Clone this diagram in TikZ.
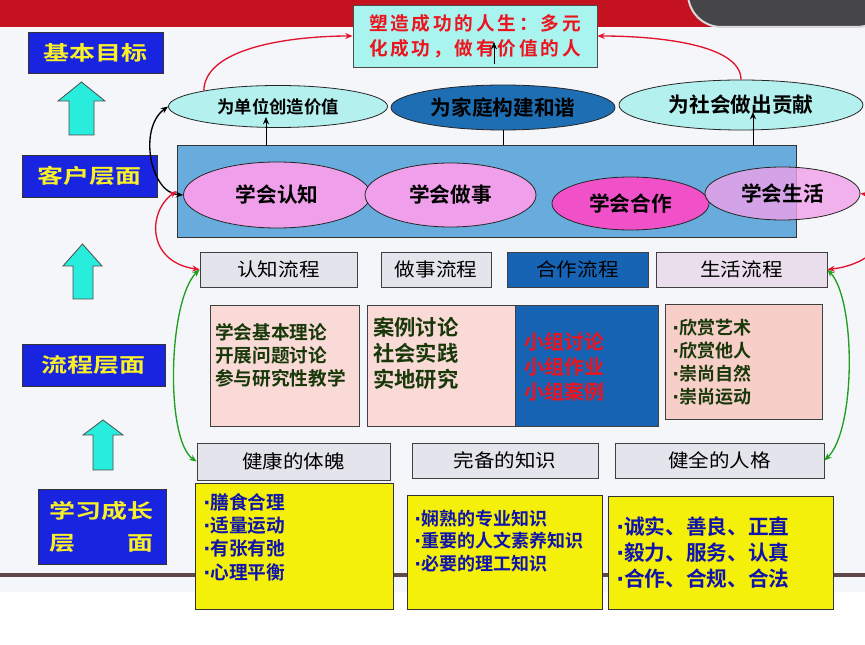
\documentclass[tikz,border=0pt]{standalone}
\usepackage{fontspec}
\setmainfont{Noto Sans CJK SC}[BoldFont={Noto Sans CJK SC Bold}]
\newfontfamily\spacedr{Noto Sans CJK SC}[FakeStretch=1.1]
\newfontfamily\spacedb{Noto Sans CJK SC Bold}[FakeStretch=1.3]
\newfontfamily\topfont{Noto Sans CJK SC Bold}[LetterSpace=15]
\newfontfamily\dotfont{DejaVu Sans Bold}
\newcommand\bdot{{\dotfont ·}}
\usetikzlibrary{arrows.meta,shapes.geometric}
\definecolor{lblblue}{RGB}{24,36,224}
\definecolor{lblyellow}{RGB}{250,240,40}
\definecolor{arrcyan}{RGB}{40,236,220}
\definecolor{topcyan}{RGB}{170,244,240}
\definecolor{ellcyan}{RGB}{180,240,238}
\definecolor{famblue}{RGB}{30,110,180}
\definecolor{rectblue}{RGB}{104,172,222}
\definecolor{pinkell}{RGB}{240,160,234}
\definecolor{hotpink}{RGB}{240,80,200}
\definecolor{hdrgrey}{RGB}{228,228,236}
\definecolor{hdrpink}{RGB}{234,222,236}
\definecolor{coopblue}{RGB}{24,100,180}
\definecolor{pinkbox}{RGB}{250,218,214}
\definecolor{salmonbox}{RGB}{248,206,200}
\definecolor{ylw}{RGB}{244,240,10}
\definecolor{grntxt}{RGB}{24,56,10}
\definecolor{bluetxt}{RGB}{16,20,170}
\definecolor{redtxt}{RGB}{236,20,30}
\definecolor{arrred}{RGB}{225,20,45}
\definecolor{arrgreen}{RGB}{30,160,30}
\definecolor{bandred}{RGB}{196,18,32}
\definecolor{bgpale}{RGB}{245,246,250}
\definecolor{darkband}{RGB}{70,70,72}
\definecolor{floorline}{RGB}{96,72,72}
\tikzset{
  lbl/.style={draw=black!80, fill=lblblue, text=lblyellow, inner sep=0pt,
    font=\spacedb\fontsize{15pt}{18pt}\selectfont},
  upar/.style={draw=black!70, fill=arrcyan, line width=0.6pt},
  ell/.style={ellipse, draw=black!85, inner sep=0pt, line width=0.6pt},
  hdr/.style={draw=black!75, fill=hdrgrey, inner sep=0pt, line width=0.6pt,
    font=\spacedr\fontsize{14pt}{16pt}\selectfont},
  cbox/.style={draw=black!75, inner sep=0pt, line width=0.6pt},
  ybox/.style={draw=black!80, fill=ylw, inner sep=0pt, line width=0.6pt},
  txt/.style={anchor=west, align=left, inner sep=0pt},
  conn/.style={line width=1pt},
  thin/.style={line width=0.6pt, black},
}
\begin{document}
\begin{tikzpicture}[x=0.75pt, y=-0.75pt, >={Stealth[length=5.5pt,width=4.5pt]}]
\clip (0,0) rectangle (865,645);
% background
\fill[white] (0,0) rectangle (865,645);
\fill[bgpale] (0,27) rectangle (865,592);
\fill[bandred] (0,0) rectangle (865,27);
\draw[fill=darkband, draw=black!15, line width=1.5pt, rounded corners=25pt] (688,-40) rectangle (890,27);
\draw[floorline, line width=3pt] (0,575) -- (865,575);

% cyan up arrows
\draw[upar] (69,135) -- (69,101) -- (58,101) -- (81.5,82) -- (105,101) -- (94,101) -- (94,135) -- cycle;
\draw[upar] (73,299) -- (73,266) -- (63,266) -- (82.5,244) -- (102,266) -- (93,266) -- (93,299) -- cycle;
\draw[upar] (93,470) -- (93,435) -- (83,435) -- (103,420) -- (123,435) -- (113,435) -- (113,470) -- cycle;

% level labels
\node[lbl, minimum width=101.25pt, minimum height=30.75pt] (goal) at (95.5,52.5) {基本目标};
\node[lbl, minimum width=101.25pt, minimum height=31.5pt] (cust) at (89.5,176) {客户层面};
\node[lbl, minimum width=107.25pt, minimum height=31.5pt] (proc) at (93.5,365) {流程层面};
\node[lbl, minimum width=96pt, minimum height=56.25pt, align=center,
  font=\spacedb\fontsize{15pt}{24pt}\selectfont] (learn) at (102,526.5) {学习成长\\层\hspace{2.6em}面};

% top goal box
\node[draw=black!70, fill=topcyan, line width=0.6pt, minimum width=183pt, minimum height=46.5pt,
  align=left, text=redtxt, inner sep=0pt, font=\topfont\fontsize{14pt}{18.75pt}\selectfont]
  (topbox) at (475,36) {塑造成功的人生：多元\\化成功，做有价值的人};

% value ellipses
\node[ell, fill=ellcyan, minimum width=164.25pt, minimum height=31.5pt,
  font=\bfseries\fontsize{13pt}{15pt}\selectfont] (e1) at (278,106.5) {为单位创造价值};
\node[ell, fill=famblue, minimum width=168pt, minimum height=33.75pt,
  font=\bfseries\fontsize{15.5pt}{17pt}\selectfont] (e2) at (503,107.5) {为家庭构建和谐};
\node[ell, fill=ellcyan, minimum width=183pt, minimum height=37.5pt,
  font=\bfseries\fontsize{15.5pt}{17pt}\selectfont] (e3) at (741,105) {为社会做出贡献};

% customer band
\node[draw=black!80, fill=rectblue, line width=0.6pt, minimum width=464.25pt, minimum height=69pt,
  inner sep=0pt] (blue) at (486.5,191) {};
\node[ell, fill=pinkell, minimum width=140.25pt, minimum height=49.5pt,
  font=\bfseries\fontsize{15.5pt}{17pt}\selectfont] (cog) at (277,195) {学会认知};
\node[ell, fill=pinkell, minimum width=128.25pt, minimum height=48pt,
  font=\bfseries\fontsize{15.5pt}{17pt}\selectfont] (dothings) at (450.5,195) {学会做事};
\node[ell, fill=hotpink, minimum width=117.75pt, minimum height=39.75pt,
  font=\bfseries\fontsize{15.5pt}{17pt}\selectfont] (coop) at (630.5,203.5) {学会合作};
\node[ell, fill=pinkell, fill opacity=0.8, text opacity=1, minimum width=116.25pt, minimum height=39.75pt,
  font=\bfseries\fontsize{15.5pt}{17pt}\selectfont] (life) at (782.5,193.5) {学会生活};

% process headers
\node[hdr, minimum width=117.75pt, minimum height=26.25pt] (h1) at (278.5,269.5) {认知流程};
\node[hdr, minimum width=82.5pt, minimum height=26.25pt] (h2) at (436,269.5) {做事流程};
\node[hdr, fill=coopblue, minimum width=105.75pt, minimum height=26.25pt] (h3) at (577.5,269.5) {合作流程};
\node[hdr, fill=hdrpink, minimum width=128.25pt, minimum height=26.25pt] (h4) at (741.5,269.5) {生活流程};

% process content boxes
\node[cbox, fill=pinkbox, minimum width=111.75pt, minimum height=90.75pt] (bA) at (284.5,365.5) {};
\node[cbox, fill=pinkbox, minimum width=111pt, minimum height=90.75pt] (bB) at (441,365.5) {};
\node[cbox, fill=coopblue, minimum width=107.25pt, minimum height=90.75pt] (bC) at (586.5,365.5) {};
\node[cbox, fill=salmonbox, minimum width=117.75pt, minimum height=86.25pt] (bD) at (743.5,361.5) {};
\node[txt, text=grntxt, font=\bfseries\fontsize{14pt}{17.25pt}\selectfont] (tA) at (215,355)
  {学会基本理论\\开展问题讨论\\参与研究性教学};
\node[txt, text=grntxt, font=\bfseries\fontsize{16pt}{19.5pt}\selectfont] (tB) at (373,353)
  {案例讨论\\社会实践\\实地研究};
\node[txt, text=redtxt, font=\bfseries\fontsize{15pt}{19pt}\selectfont] (tC) at (524,367)
  {小组讨论\\小组作业\\小组案例};
\node[txt, text=grntxt, font=\bfseries\fontsize{13.5pt}{17.25pt}\selectfont] (tD) at (672,362.5)
  {\bdot 欣赏艺术\\\bdot 欣赏他人\\\bdot 崇尚自然\\\bdot 崇尚运动};

% learning headers
\node[hdr, minimum width=144.75pt, minimum height=27.75pt] (b1) at (293.5,461.5) {健康的体魄};
\node[hdr, minimum width=139.5pt, minimum height=26.25pt] (b2) at (505,460.5) {完备的知识};
\node[hdr, minimum width=156.75pt, minimum height=26.25pt] (b3) at (719.5,460.5) {健全的人格};

% yellow boxes
\node[ybox, minimum width=148.5pt, minimum height=94.5pt] (y1) at (294,546) {};
\node[ybox, minimum width=146.25pt, minimum height=85.5pt] (y2) at (504.5,552) {};
\node[ybox, minimum width=168.75pt, minimum height=84.75pt] (y3) at (720.5,552.5) {};
\node[txt, text=bluetxt, font=\bfseries\fontsize{14pt}{17.5pt}\selectfont] (ty1) at (203,537)
  {\bdot 膳食合理\\\bdot 适量运动\\\bdot 有张有弛\\\bdot 心理平衡};
\node[txt, text=bluetxt, font=\bfseries\fontsize{13.5pt}{16.9pt}\selectfont] (ty2) at (414,541)
  {\bdot 娴熟的专业知识\\\bdot 重要的人文素养知识\\\bdot 必要的理工知识};
\node[txt, text=bluetxt, font=\bfseries\fontsize{15.5pt}{19.5pt}\selectfont] (ty3) at (616,553)
  {\bdot 诚实、善良、正直\\\bdot 毅力、服务、认真\\\bdot 合作、合规、合法};

% small vertical connectors
\coordinate (a1s) at (266,146);
\coordinate (a1e) at (266,117);
\draw[thin, ->] (a1s) -- (a1e);
\draw[thin] (e2.south |- blue.north) -- (e2.south);
\coordinate (t1s) at (494,64);
\coordinate (t1e) at (494,42);
\draw[thin, ->] (t1s) -- (t1e);
\coordinate (a3s) at (753,146);
\coordinate (a3e) at (753,112);
\draw[thin, ->] (a3s) -- (a3e);

% curved connectors
\draw[conn, black, <->] (cog.west) .. controls (150,193) and (138,128) .. (e1.west);
\draw[conn, arrred, <->] (blue.west) .. controls (147,212) and (147,262) .. (h1.west);
\draw[conn, arrgreen, <->] (h1.west) .. controls (168,300) and (165,440) .. (b1.west);
\draw[conn, arrred, <->] (life.east) .. controls (905,200) and (895,262) .. (h4.east);
\draw[conn, arrgreen, <->] (h4.east) .. controls (856,300) and (856,430) .. (b3.east);
\draw[conn, arrred, ->] (e1.168) .. controls (205,45) and (300,36) .. (topbox.west);
\draw[conn, arrred, ->] (e3.north) .. controls (741,45) and (660,36) .. (topbox.east);
\end{tikzpicture}
\end{document}
